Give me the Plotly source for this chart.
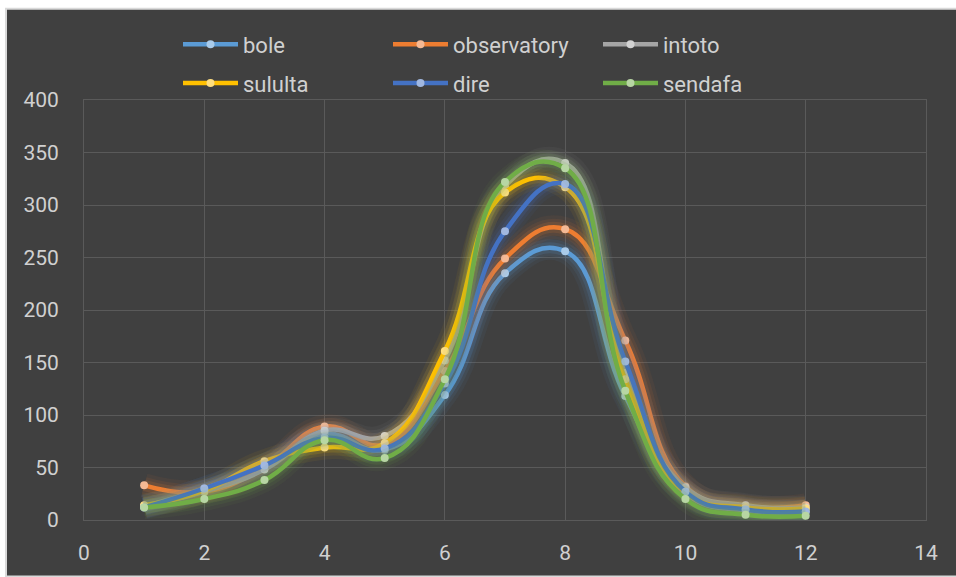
import plotly.graph_objects as go

x_vals = [1, 2, 3, 4, 5, 6, 7, 8, 9, 10, 11, 12]
series_names = ["bole", "observatory", "intoto", "sululta", "dire", "sendafa"]
bole = [13, 30, 52, 82, 67, 119, 235, 256, 118, 25, 9, 8]
observatory = [33, 27, 50, 89, 72, 142, 249, 277, 171, 32, 13, 14]
intoto = [13, 27, 48, 85, 80, 152, 318, 340, 140, 31, 14, 12]
sululta = [14, 28, 56, 69, 73, 161, 312, 317, 134, 26, 12, 11]
dire = [12, 30, 52, 78, 68, 130, 275, 320, 151, 27, 10, 8]
sendafa = [12, 20, 38, 76, 59, 134, 322, 335, 123, 20, 5, 4]

line_colors = ["#5B9BD5", "#ED7D31", "#A5A5A5", "#FFC000", "#4472C4", "#70AD47"]
marker_colors = ["#A9CBEA", "#F5B994", "#D2D2D2", "#FFDF80", "#A1B8E1", "#B7D6A3"]
glow_rgb = [(91, 155, 213), (237, 125, 49), (165, 165, 165), (255, 192, 0), (68, 114, 196), (112, 173, 71)]

data = [bole, observatory, intoto, sululta, dire, sendafa]
FONT = "Roboto, 'Open Sans', sans-serif"
TXT = "#d0d0d0"
GRID = "#5a5a5a"

fig = go.Figure()
for i, (name, ys) in enumerate(zip(series_names, data)):
    r, g, b = glow_rgb[i]
    for w, a in [(24, 0.06), (17, 0.09), (11, 0.14)]:
        fig.add_trace(go.Scatter(
            x=x_vals, y=ys, mode="lines",
            line=dict(color=f"rgba({r},{g},{b},{a})", width=w, shape="spline", smoothing=1.3),
            showlegend=False, hoverinfo="skip"))
    fig.add_trace(go.Scatter(
        x=x_vals, y=ys, mode="lines+markers", name=name,
        line=dict(color=line_colors[i], width=4.5, shape="spline", smoothing=1.3),
        marker=dict(color=marker_colors[i], size=8, line=dict(width=0)),
        legend="legend" if i < 3 else "legend2"))

# dark chart area background with light border
px = lambda p: (p - 84) / 842
py = lambda p: (523 - p) / 423
fig.add_shape(type="rect", xref="paper", yref="paper",
              x0=px(6), x1=px(960), y0=py(580), y1=py(8),
              fillcolor="#404040", line=dict(color="#d9d9d9", width=2), layer="below")

leg_common = dict(orientation="h", xanchor="left", yanchor="middle",
                  font=dict(family=FONT, size=22, color=TXT),
                  bgcolor="rgba(0,0,0,0)", entrywidth=140, entrywidthmode="pixels",
                  itemwidth=55, tracegroupgap=0)

fig.update_layout(
    width=956, height=577,
    margin=dict(l=84, r=30, t=100, b=54),
    paper_bgcolor="white",
    plot_bgcolor="rgba(0,0,0,0)",
    font=dict(family=FONT, size=20, color=TXT),
    legend=dict(x=px(178), y=py(44), **leg_common),
    legend2=dict(x=px(178), y=py(83), **leg_common),
    xaxis=dict(range=[0, 14], dtick=2, tick0=0, showgrid=True, gridcolor=GRID, gridwidth=1,
               zeroline=False, showline=True, mirror=True, linecolor=GRID, linewidth=1,
               ticks="", ticklabelstandoff=14, tickfont=dict(family=FONT, size=21, color=TXT)),
    yaxis=dict(range=[0, 400], dtick=50, tick0=0, showgrid=True, gridcolor=GRID, gridwidth=1,
               zeroline=False, showline=True, mirror=True, linecolor=GRID, linewidth=1,
               ticks="", ticklabelstandoff=20, tickfont=dict(family=FONT, size=21, color=TXT)),
)

fig.write_html("out.html")
